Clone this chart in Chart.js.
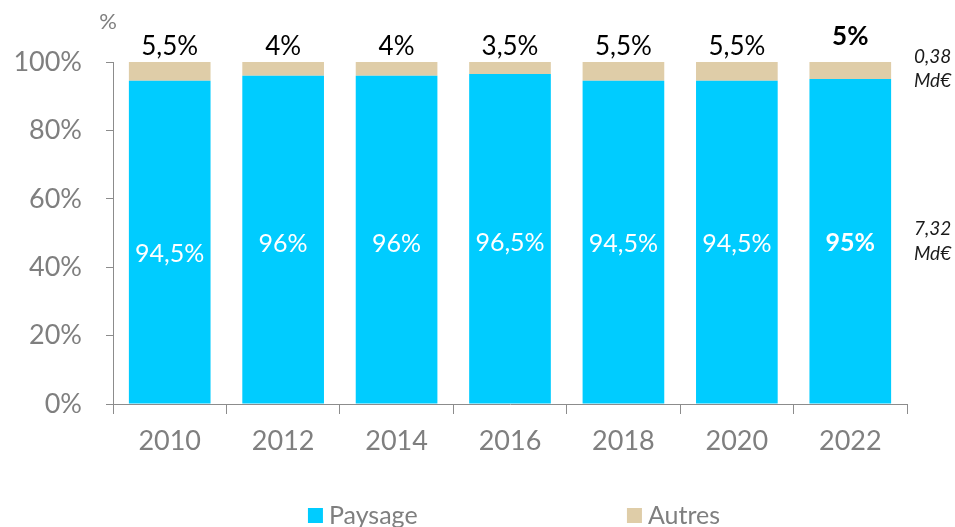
<!DOCTYPE html>
<html>
<head>
<meta charset="utf-8">
<script src="https://cdn.jsdelivr.net/npm/chart.js@4.4.0/dist/chart.umd.min.js"></script>
<style>
  html, body { margin: 0; padding: 0; background: #fff; }
  #wrap { width: 955px; height: 527px; }
</style>
</head>
<body>
<div id="wrap"><canvas id="chart" width="955" height="527"></canvas></div>
<script>
// --- données ---
const years = ['2010', '2012', '2014', '2016', '2018', '2020', '2022'];
const paysage = [94.5, 96, 96, 96.5, 94.5, 94.5, 95];
const autres = [5.5, 4, 4, 3.5, 5.5, 5.5, 5];
const yTicks = [0, 20, 40, 60, 80, 100];
const montantPaysage = ['7,32', 'Md€'];
const montantAutres = ['0,38', 'Md€'];

const FONT = 'Lato, "Open Sans", sans-serif';
const GRIS = '#7f7f7f';
const AXE = '#8c8c8c';
const CYAN = '#00ccff';
const BEIGE = '#dfcda8';

// petits décalages verticaux des étiquettes (style)
const decalage = [12, 4, 4, 4, 2, 2, 2];
const decalageHaut = [0, 0, 0, 0, 0, 0, -10];

function fmt(v) {
    return String(v).replace('.', ',') + '%';
}

// étiquettes, notes à droite et légende dessinées à la main
const etiquettes = {
    id: 'etiquettes',
    afterDraw(chart) {
        const ctx = chart.ctx;
        const area = chart.chartArea;
        const last = years.length - 1;
        ctx.save();
        ctx.textAlign = 'center';
        ctx.textBaseline = 'middle';

        chart.getDatasetMeta(0).data.forEach((bar, i) => {
            const bold = i === last ? 'bold ' : '';
            ctx.fillStyle = '#ffffff';
            ctx.font = bold + '25px ' + FONT;
            const cy = (bar.y + bar.base) / 2 + decalage[i];
            ctx.fillText(fmt(paysage[i]), bar.x, cy);
        });
        chart.getDatasetMeta(1).data.forEach((bar, i) => {
            const bold = i === last ? 'bold ' : '';
            ctx.fillStyle = '#000000';
            ctx.font = bold + '26px ' + FONT;
            ctx.fillText(fmt(autres[i]), bar.x, bar.y - 15 + decalageHaut[i]);
        });

        // notes en Md€ à droite de la dernière barre
        ctx.textAlign = 'left';
        ctx.font = 'italic 19px ' + FONT;
        ctx.fillStyle = '#1a1a1a';
        const bP = chart.getDatasetMeta(0).data[last];
        const bA = chart.getDatasetMeta(1).data[last];
        const xNote = area.right + 7;
        const cP = (bP.y + bP.base) / 2;
        const cA = (bA.y + bA.base) / 2 - 2;
        ctx.fillText(montantPaysage[0], xNote, cP - 12);
        ctx.fillText(montantPaysage[1], xNote, cP + 13);
        ctx.fillText(montantAutres[0], xNote, cA - 12);
        ctx.fillText(montantAutres[1], xNote, cA + 12);

        // unité en haut de l'axe
        ctx.textAlign = 'center';
        ctx.font = '22px ' + FONT;
        ctx.fillStyle = GRIS;
        ctx.fillText('%', area.left - 5, 22);

        // légende
        const items = chart.data.datasets.map(d => ({ label: d.label, color: d.backgroundColor }));
        ctx.font = '25px ' + FONT;
        const ecart = 319;
        const w2 = 15 + 6 + ctx.measureText(items[1].label).width;
        let x = (area.left + area.right) / 2 - (ecart + w2) / 2 + 4;
        const yLeg = 515;
        ctx.textAlign = 'left';
        items.forEach((it, k) => {
            const x0 = x + k * ecart;
            ctx.fillStyle = it.color;
            ctx.fillRect(x0, yLeg - 7, 15, 15);
            ctx.fillStyle = GRIS;
            ctx.fillText(it.label, x0 + 21, yLeg + 1);
        });
        ctx.restore();
    }
};

new Chart(document.getElementById('chart'), {
    type: 'bar',
    data: {
        labels: years,
        datasets: [
            { label: 'Paysage', data: paysage, backgroundColor: CYAN, barPercentage: 0.72, categoryPercentage: 1 },
            { label: 'Autres', data: autres, backgroundColor: BEIGE, barPercentage: 0.72, categoryPercentage: 1 }
        ]
    },
    options: {
        responsive: false,
        animation: false,
        layout: { padding: { top: 62, right: 48, bottom: 63, left: 0 } },
        plugins: { legend: { display: false }, tooltip: { enabled: false } },
        scales: {
            x: {
                stacked: true,
                afterFit(scale) { scale.height = 60; },
                border: { display: true, color: AXE, width: 1 },
                grid: { display: true, drawOnChartArea: false, drawTicks: true, tickLength: 10, offset: true, color: AXE },
                ticks: { color: GRIS, padding: 11, font: { family: FONT, size: 27 } }
            },
            y: {
                stacked: true,
                min: 0,
                max: 100,
                afterFit(scale) { scale.width = 113; },
                afterBuildTicks(scale) { scale.ticks = yTicks.map(v => ({ value: v })); },
                border: { display: true, color: AXE, width: 1 },
                grid: { display: true, drawOnChartArea: false, drawTicks: true, tickLength: 7, color: AXE },
                ticks: { color: GRIS, padding: 24, font: { family: FONT, size: 27 }, callback: v => v + '%' }
            }
        }
    },
    plugins: [etiquettes]
});
</script>
</body>
</html>
